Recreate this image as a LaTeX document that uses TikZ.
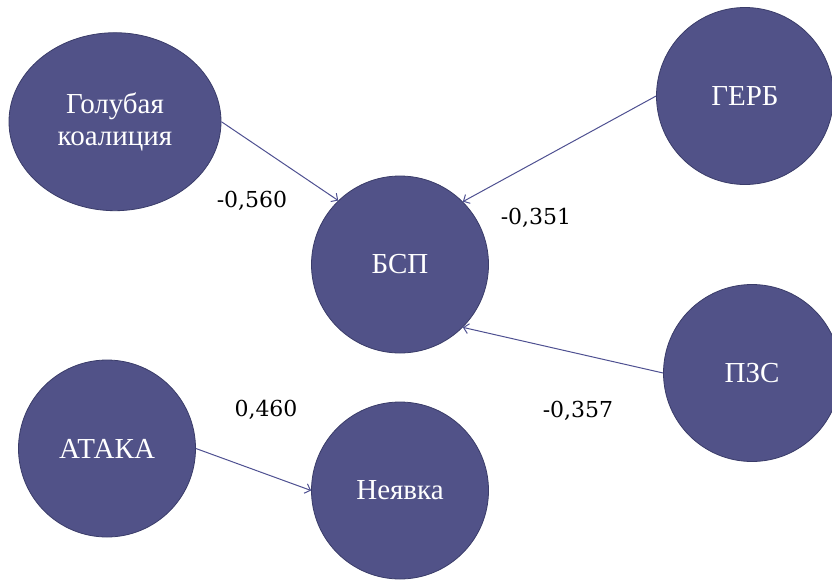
\documentclass[tikz,border=0pt]{standalone}
\usepackage{fontspec}
\newfontfamily\cyrfont{Liberation Serif}
\newfontfamily\coeffont{DejaVu Serif}
\usetikzlibrary{shapes.geometric, arrows.meta, positioning}
\definecolor{partyblue}{RGB}{81, 82, 136}
\definecolor{partyedge}{RGB}{58, 60, 105}
\definecolor{linkblue}{RGB}{78, 80, 145}

\begin{document}
\begin{tikzpicture}[x=1pt, y=-1pt,
  party/.style={circle, draw=partyedge, fill=partyblue, line width=0.8pt, minimum size=177pt, inner sep=0pt, text=white, align=center, font=\cyrfont\fontsize{29}{32}\selectfont},
  wideparty/.style={party, ellipse, minimum width=212pt, minimum height=178pt},
  coef/.style={inner sep=0pt, font=\coeffont\fontsize{22}{26}\selectfont},
  link/.style={draw=linkblue, line width=1pt, -{Straight Barb[length=5pt, width=10pt]}}
]
  \useasboundingbox (0,0) rectangle (832,579);

  % parties
  \node[wideparty] (gk) at (115,121.7) {Голубая\\коалиция};
  \node[party] (gerb) at (745,96) {ГЕРБ};
  \node[party] (bsp) at (400,264.5) {БСП};
  \node[party] (pzs) at (752,373) {ПЗС};
  \node[party] (ataka) at (107,448.5) {АТАКА};
  \node[party] (neyavka) at (400,490.5) {Неявка};

  % coefficients
  \node[coef] (c1) at (252,201) {-0,560};
  \node[coef] (c2) at (536,218) {-0,351};
  \node[coef] (c3) at (266,410) {0,460};
  \node[coef] (c4) at (578,411) {-0,357};

  % effects
  \draw[link] (gk.east) -- (bsp.134);
  \draw[link] (gerb.west) -- (bsp.45);
  \draw[link] (pzs.west) -- (bsp.-45);
  \draw[link] (ataka.east) -- (neyavka.west);
\end{tikzpicture}
\end{document}
